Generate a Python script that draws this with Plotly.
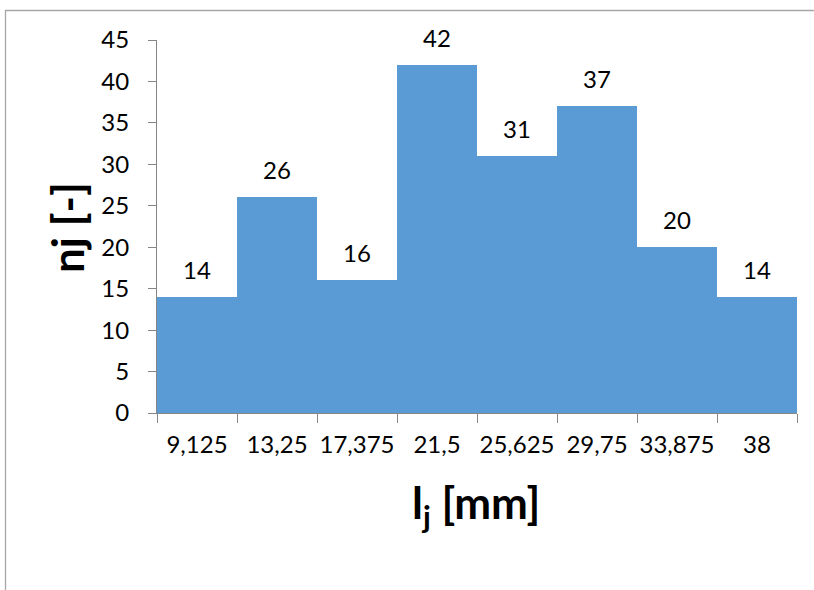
import plotly.graph_objects as go

# Class midpoints (mm) and counts per class
class_mids = ["9,125", "13,25", "17,375", "21,5", "25,625", "29,75", "33,875", "38"]
counts = [14, 26, 16, 42, 31, 37, 20, 14]

y_ticks = list(range(0, 50, 5))

W, H = 814, 590
M_L, M_R, M_T, M_B = 157, 17, 40, 177
plot_w = W - M_L - M_R
plot_h = H - M_T - M_B

font_family = "Lato"
axis_col = "#868686"
tick_size = 24
title_size = 44

fig = go.Figure(
    go.Bar(
        x=class_mids,
        y=counts,
        marker=dict(color="#5B9BD5", line=dict(width=0)),
        hoverinfo="x+y",
    )
)

# value labels above each bar (category index positions)
for i, v in enumerate(counts):
    fig.add_annotation(
        x=i, y=v, text=str(v), showarrow=False,
        xanchor="center", yanchor="bottom", yshift=11,
        font=dict(family=font_family, size=tick_size, color="#000000"),
    )

# axis titles
fig.add_annotation(
    xref="paper", yref="paper",
    x=(67 - M_L) / plot_w, y=(H - M_B - 228) / plot_h,
    text="<b>nj [-]</b>", textangle=-90, showarrow=False,
    xanchor="center", yanchor="middle",
    font=dict(family=font_family, size=title_size, color="#000000"),
)
fig.add_annotation(
    xref="paper", yref="paper",
    x=(476 - M_L) / plot_w, y=(H - M_B - 505) / plot_h,
    text="<b>l<sub>j</sub> [mm]</b>", showarrow=False,
    xanchor="center", yanchor="middle",
    font=dict(family=font_family, size=title_size, color="#000000"),
)

# outer chart-area frame
fig.add_shape(
    type="rect", xref="paper", yref="paper",
    x0=(5.5 - M_L) / plot_w, x1=1.5,
    y0=-1.0, y1=(H - M_B - 10.5) / plot_h,
    line=dict(color="#A6A6A6", width=1.3), fillcolor="rgba(0,0,0,0)",
    layer="below",
)

fig.update_layout(
    width=W, height=H,
    margin=dict(l=M_L, r=M_R, t=M_T, b=M_B),
    paper_bgcolor="white", plot_bgcolor="white",
    bargap=0,
    showlegend=False,
    font=dict(family=font_family, color="#000000"),
    xaxis=dict(
        type="category",
        range=[-0.5, len(class_mids) - 0.5],
        showline=True, linecolor=axis_col, linewidth=1,
        ticks="outside", ticklen=9, tickcolor=axis_col, tickwidth=1,
        tickson="boundaries",
        tickangle=0,
        showgrid=False, zeroline=False,
        tickfont=dict(family=font_family, size=tick_size, color="#000000"),
        ticklabelstandoff=10,
    ),
    yaxis=dict(
        range=[0, 45],
        tickvals=y_ticks,
        showline=True, linecolor=axis_col, linewidth=1,
        ticks="outside", ticklen=8, tickcolor=axis_col, tickwidth=1,
        showgrid=False, zeroline=False,
        tickfont=dict(family=font_family, size=tick_size, color="#000000"),
        ticklabelstandoff=14,
    ),
)

fig.write_html("out.html")
